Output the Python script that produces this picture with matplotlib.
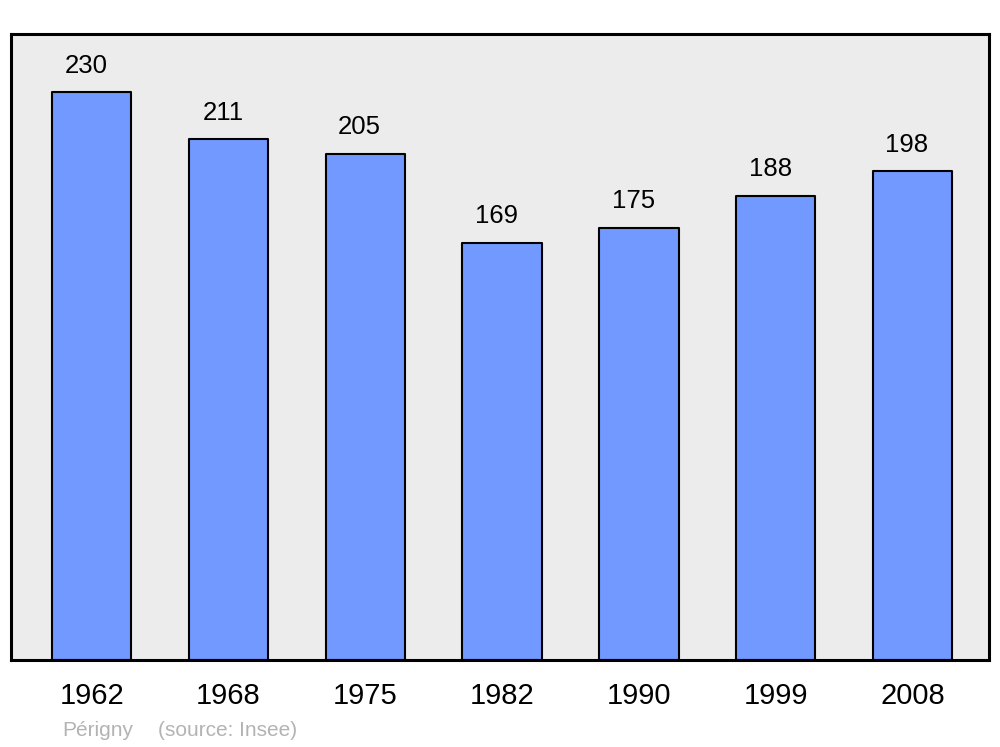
import matplotlib
matplotlib.use("Agg")
import matplotlib.pyplot as plt

years = ["1962", "1968", "1975", "1982", "1990", "1999", "2008"]
population = [230, 211, 205, 169, 175, 188, 198]

plt.rcParams['font.family'] = ['Liberation Sans', 'DejaVu Sans']

fig = plt.figure(figsize=(10, 7.47), dpi=100)
ax = fig.add_axes([0.011, 0.1165, 0.978, 0.838])
ax.set_facecolor('#ececec')

x = list(range(len(years)))
bars = ax.bar(x, population, width=0.58, color='#7299ff', edgecolor='black',
              linewidth=1.5, joinstyle='round')

for xi, v in zip(x, population):
    ax.annotate(str(v), (xi, v), xytext=(-4, 19), textcoords='offset points',
                ha='center', va='center', fontsize=18.5)

ax.set_xlim(-0.59, 6.56)
ax.set_ylim(0, 253.5)
ax.set_xticks(x)
ax.set_xticklabels(years, fontsize=21)
ax.tick_params(axis='x', length=0, pad=16)
ax.set_yticks([])
for s in ax.spines.values():
    s.set_linewidth(2.2)
    s.set_joinstyle('round')

fig.text(0.062, 0.022, "Périgny", color='#b3b3b3', fontsize=15,
         ha='left', va='center')
fig.text(0.158, 0.022, "(source: Insee)", color='#b3b3b3', fontsize=15,
         ha='left', va='center')

fig.savefig("out.png", dpi=100)
